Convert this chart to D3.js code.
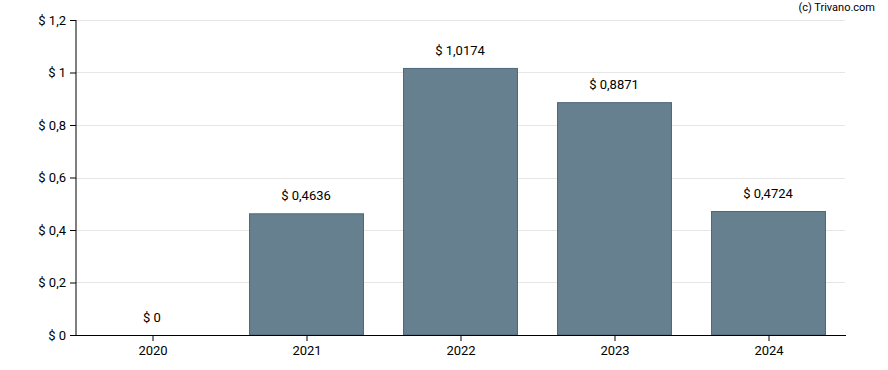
<!DOCTYPE html>
<html><head><meta charset="utf-8">
<script src="https://cdn.jsdelivr.net/npm/d3@7"></script>
<style>body{margin:0;background:#fff}svg{display:block}text{font-family:Roboto,"Noto Sans",sans-serif}</style>
</head><body><svg id="c" width="888" height="370"></svg>
<script>
const categories = ["2020","2021","2022","2023","2024"];
const values = [0, 0.4636, 1.0174, 0.8871, 0.4724];
const yTicks = [0, 0.2, 0.4, 0.6, 0.8, 1, 1.2];
const fmt = v => "$ " + String(v).replace(".", ",");

const svg = d3.select("#c");
const L = 76, R = 846, T = 20, B = 335;
const x = d3.scaleBand().domain(categories).range([L, R]).paddingInner(0.26).paddingOuter(0.13);
const y = d3.scaleLinear().domain([0, 1.2]).range([B, T]);

svg.append("g").selectAll("line").data(yTicks.filter(d => d > 0)).join("line")
  .attr("x1", L).attr("x2", R - 1).attr("y1", d => Math.round(y(d)) + 0.5).attr("y2", d => Math.round(y(d)) + 0.5)
  .attr("stroke", "#e6e6e6");

svg.append("g").selectAll("rect").data(values).join("rect")
  .attr("x", (d, i) => x(categories[i]) - 0.5)
  .attr("y", d => y(d) + 0.5)
  .attr("width", x.bandwidth())
  .attr("height", d => Math.max(0, B - y(d) - 0.5))
  .attr("fill", "#66808f").attr("stroke", "#4d6879").attr("stroke-width", 1)
  .attr("display", d => d > 0 ? null : "none");

svg.append("g").selectAll("text").data(values).join("text")
  .attr("x", (d, i) => x(categories[i]) + x.bandwidth() / 2 - 1)
  .attr("y", d => y(d) - 13)
  .attr("text-anchor", "middle").attr("font-size", 13).attr("fill", "#000")
  .text(d => fmt(d));

const ya = svg.append("g").attr("transform", `translate(${L},0)`)
  .call(d3.axisLeft(y).tickValues(yTicks).tickSize(6).tickPadding(4).tickFormat(fmt));
ya.select(".domain").attr("stroke", "#000").attr("d", `M-0.5,${T}V${B}`).attr("transform", "translate(0.5,0)");
ya.selectAll("text").attr("font-size", 13).attr("fill", "#000").attr("font-family", "Roboto, sans-serif");

const xa = svg.append("g").attr("transform", `translate(0,${B})`)
  .call(d3.axisBottom(x).tickSize(6).tickPadding(5));
xa.select(".domain").attr("d", `M${L},0.5H${R}`).attr("stroke", "#000");
xa.selectAll("text").attr("font-size", 13).attr("fill", "#000").attr("font-family", "Roboto, sans-serif");

svg.append("text").attr("x", 875).attr("y", 11).attr("text-anchor", "end")
  .attr("font-size", 11).attr("fill", "#000").text("(c) Trivano.com");
</script></body></html>
